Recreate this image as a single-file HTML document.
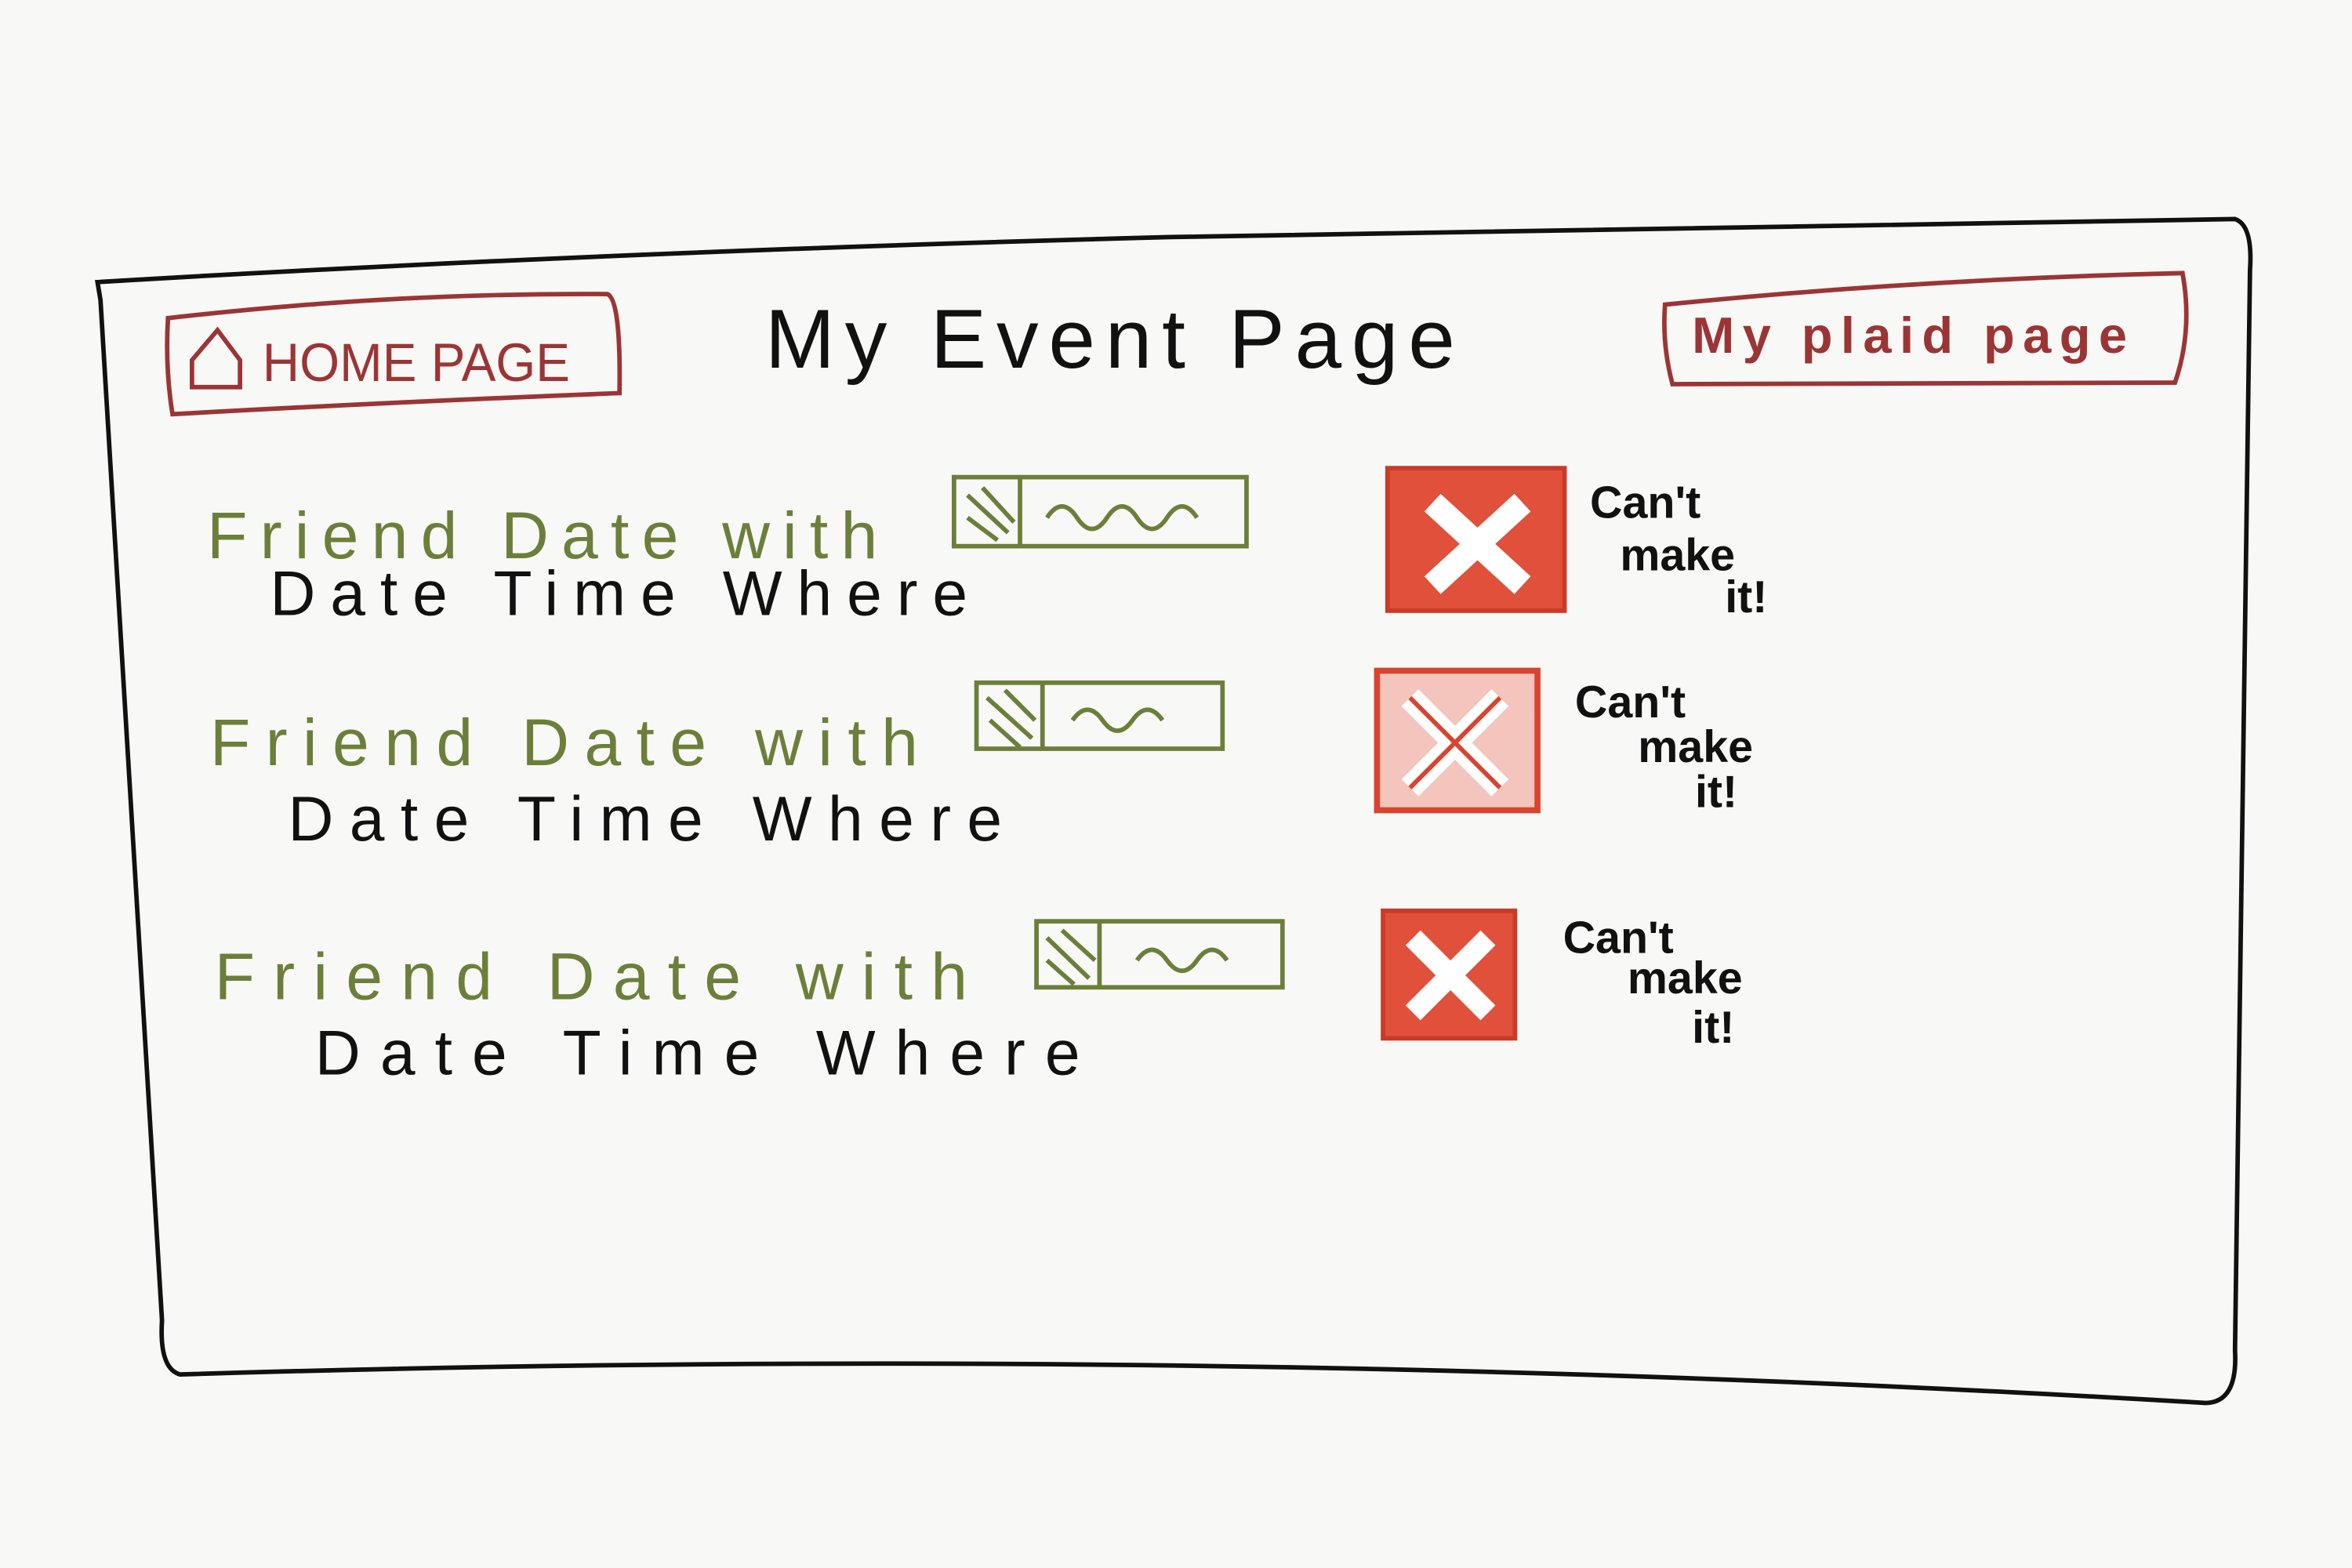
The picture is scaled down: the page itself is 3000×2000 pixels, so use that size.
<!DOCTYPE html>
<html><head><meta charset="utf-8"><style>
html,body{margin:0;padding:0;background:#f8f8f6;}
svg{display:block;}
text{font-family:"Liberation Sans",sans-serif;}
</style></head><body>
<svg width="3000" height="2000" viewBox="0 0 1568 1045" preserveAspectRatio="none" xmlns="http://www.w3.org/2000/svg">
<rect width="1568" height="1045" fill="#f8f8f6"/>
<path d="M65,188 Q400,168 780,158 Q1200,150 1490,146 Q1502,150 1500,180 L1490,900 Q1492,935 1470,935 Q800,895 120,916 Q106,912 108,880 L67,200 Z" fill="none" stroke="#111" stroke-width="3"/>
<path d="M112,212 Q260,195 405,196 Q414,200 413,262 Q260,268 115,276 Q110,245 112,212Z" fill="none" stroke="#9b3535" stroke-width="3"/>
<path d="M128,240 L145,220 L160,240 L160,258 L128,258 Z" fill="none" stroke="#9b3535" stroke-width="3"/>
<text x="175" y="254" font-size="36" fill="#9b3535" textLength="205" lengthAdjust="spacingAndGlyphs">HOME PAGE</text>
<text x="510" y="245" font-size="56" fill="#111" textLength="460" lengthAdjust="spacing">My Event Page</text>
<path d="M1110,203 Q1280,186 1455,182 Q1462,220 1450,255 Q1280,255 1115,256 Q1108,230 1110,203Z" fill="none" stroke="#9b3535" stroke-width="3"/>
<text x="1128" y="235" font-size="34" fill="#9b3535" font-weight="bold" textLength="290" lengthAdjust="spacing">My plaid page</text>
<g fill="#6b7f3a" font-size="44" lengthAdjust="spacing">
<text x="138" y="372" textLength="447" lengthAdjust="spacing">Friend Date with</text>
<text x="140" y="510" textLength="472" lengthAdjust="spacing">Friend Date with</text>
<text x="143" y="666" textLength="502" lengthAdjust="spacing">Friend Date with</text>
</g>
<g fill="#111" font-size="42">
<text x="180" y="410" textLength="465" lengthAdjust="spacing">Date Time Where</text>
<text x="192" y="560" textLength="476" lengthAdjust="spacing">Date Time Where</text>
<text x="210" y="716" textLength="510" lengthAdjust="spacing">Date Time Where</text>
</g>
<g fill="none" stroke="#6b7f3a" stroke-width="3">
<rect x="636" y="318" width="195" height="46"/><line x1="680" y1="318" x2="680" y2="364"/>
<path d="M645,330 L672,355 M645,345 L665,360 M655,325 L676,348" />
<path d="M698,345 q10,-15 20,0 q10,15 20,0 q10,-15 20,0 q10,15 20,0 q10,-15 20,0"/>
<rect x="651" y="455" width="164" height="44"/><line x1="695" y1="455" x2="695" y2="499"/>
<path d="M658,465 L688,492 M660,480 L680,498 M670,460 L690,480"/>
<path d="M715,480 q10,-14 20,0 q10,14 20,0 q10,-14 20,0"/>
<rect x="691" y="614" width="164" height="44"/><line x1="733" y1="614" x2="733" y2="658"/>
<path d="M698,625 L726,652 M698,640 L716,656 M708,620 L730,640"/>
<path d="M758,640 q10,-14 20,0 q10,14 20,0 q10,-14 20,0"/>
</g>
<g>
<rect x="925" y="312" width="118" height="95" fill="#e0503a" stroke="#c93a28" stroke-width="3"/>
<path d="M955,335 L1015,390 M1015,335 L955,390" stroke="#fff" stroke-width="16"/>
<rect x="918" y="447" width="107" height="93" fill="#f3c5bc" stroke="#d9442f" stroke-width="4"/>
<path d="M940,465 L1000,525 M1000,465 L940,525" stroke="#fff" stroke-width="16"/>
<path d="M940,465 L1000,525 M1000,465 L940,525" stroke="#d9442f" stroke-width="3" fill="none"/>
<rect x="922" y="607" width="88" height="85" fill="#e0503a" stroke="#c93a28" stroke-width="3"/>
<path d="M942,625 L992,675 M992,625 L942,675" stroke="#fff" stroke-width="14"/>
</g>
<g fill="#111" font-size="30" font-weight="bold">
<text x="1060" y="345">Can't</text><text x="1080" y="380">make</text><text x="1150" y="408">it!</text>
<text x="1050" y="478">Can't</text><text x="1092" y="508">make</text><text x="1130" y="538">it!</text>
<text x="1042" y="635">Can't</text><text x="1085" y="662">make</text><text x="1128" y="695">it!</text>
</g>
</svg>
</body></html>
